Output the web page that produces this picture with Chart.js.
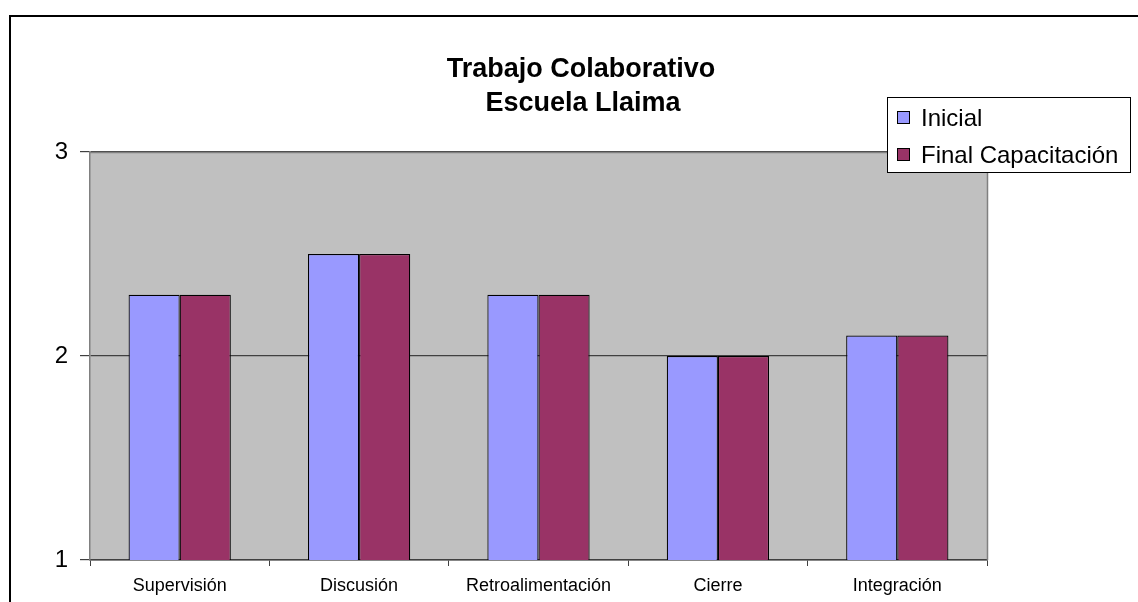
<!DOCTYPE html>
<html>
<head>
<meta charset="utf-8">
<script src="https://cdn.jsdelivr.net/npm/chart.js@4/dist/chart.umd.min.js"></script>
<style>
html,body{margin:0;padding:0;background:#fff;}
#wrap{width:1138px;height:602px;position:relative;}
</style>
</head>
<body>
<div id="wrap"><canvas id="c" width="1138" height="602"></canvas></div>
<script>
const titleLines = ["Trabajo Colaborativo", "Escuela Llaima"];
const categories = ["Supervisión", "Discusión", "Retroalimentación", "Cierre", "Integración"];
const seriesNames = ["Inicial", "Final Capacitación"];
const inicial = [2.3, 2.5, 2.3, 2.0, 2.1];
const finalCap = [2.3, 2.5, 2.3, 2.0, 2.1];
const yTicks = [1, 2, 3];
const seriesColors = ["#9999FF", "#993366"];

const FONT = "'Liberation Sans', Arial, sans-serif";

const decor = {
  id: 'decor',
  beforeDraw(chart) {
    const ctx = chart.ctx, a = chart.chartArea;
    ctx.save();
    ctx.fillStyle = '#fff';
    ctx.fillRect(0, 0, chart.width, chart.height);
    ctx.strokeStyle = '#000';
    ctx.lineWidth = 2;
    ctx.strokeRect(10, 16, 1140, 600);
    ctx.fillStyle = '#C0C0C0';
    ctx.fillRect(a.left, a.top, a.right - a.left, a.bottom - a.top);
    ctx.restore();
  },
  beforeDatasetsDraw(chart) {
    const ctx = chart.ctx, a = chart.chartArea;
    ctx.save();
    ctx.strokeStyle = '#808080';
    ctx.lineWidth = 1.5;
    ctx.beginPath();
    ctx.moveTo(a.left, a.top + 0.5);
    ctx.lineTo(a.right + 0.5, a.top + 0.5);
    ctx.lineTo(a.right + 0.5, a.bottom);
    ctx.stroke();
    ctx.restore();
  },
  afterDraw(chart) {
    const ctx = chart.ctx;
    ctx.save();
    ctx.fillStyle = '#000';
    ctx.font = "bold 27px " + FONT;
    ctx.textAlign = 'center';
    ctx.textBaseline = 'middle';
    ctx.fillText(titleLines[0], 581, 70);
    ctx.fillText(titleLines[1], 583, 104);
    const lx = 887, ly = 97, lw = 243, lh = 75;
    ctx.fillStyle = '#fff';
    ctx.fillRect(lx, ly, lw, lh);
    ctx.strokeStyle = '#000';
    ctx.lineWidth = 1;
    ctx.strokeRect(lx + 0.5, ly + 0.5, lw, lh);
    ctx.font = "24px " + FONT;
    ctx.textAlign = 'left';
    chart.data.datasets.forEach((ds, i) => {
      const cy = ly + 21 + i * 37;
      ctx.fillStyle = ds.backgroundColor;
      ctx.fillRect(lx + 10.5, cy - 6.5, 12, 12);
      ctx.strokeStyle = '#000';
      ctx.lineWidth = 1;
      ctx.strokeRect(lx + 10.5, cy - 6.5, 12, 12);
      ctx.fillStyle = '#000';
      ctx.fillText(ds.label, lx + 34, cy + 1);
    });
    ctx.restore();
  }
};

new Chart(document.getElementById('c'), {
  type: 'bar',
  data: {
    labels: categories,
    datasets: [
      { label: seriesNames[0], data: inicial, backgroundColor: seriesColors[0], borderColor: '#000', borderWidth: 1.2, borderSkipped: false },
      { label: seriesNames[1], data: finalCap, backgroundColor: seriesColors[1], borderColor: '#000', borderWidth: 1.2, borderSkipped: false }
    ]
  },
  options: {
    responsive: false,
    animation: false,
    devicePixelRatio: 1,
    layout: { padding: { top: 152, left: 0, right: 151, bottom: 0 } },
    datasets: { bar: { categoryPercentage: 0.57, barPercentage: 1.0 } },
    plugins: { legend: { display: false }, title: { display: false }, tooltip: { enabled: false } },
    scales: {
      x: {
        offset: true,
        grid: { offset: true, drawOnChartArea: false, drawTicks: true, tickLength: 6, color: '#404040' },
        border: { display: true, color: '#404040', width: 1.5 },
        ticks: { color: '#000', font: { family: FONT, size: 18 }, padding: 9, maxRotation: 0, autoSkip: false },
        afterFit(s) { s.height = 42; }
      },
      y: {
        min: 1, max: 3,
        afterBuildTicks(s) { s.ticks = yTicks.map(v => ({ value: v })); },
        grid: { color: '#404040', lineWidth: 1.2, drawTicks: true, tickLength: 10, drawOnChartArea: true },
        border: { display: true, color: '#808080', width: 1.5 },
        ticks: { color: '#000', font: { family: FONT, size: 24 }, padding: 12 },
        afterFit(s) { s.width = 90; }
      }
    }
  },
  plugins: [decor]
});
</script>
</body>
</html>
